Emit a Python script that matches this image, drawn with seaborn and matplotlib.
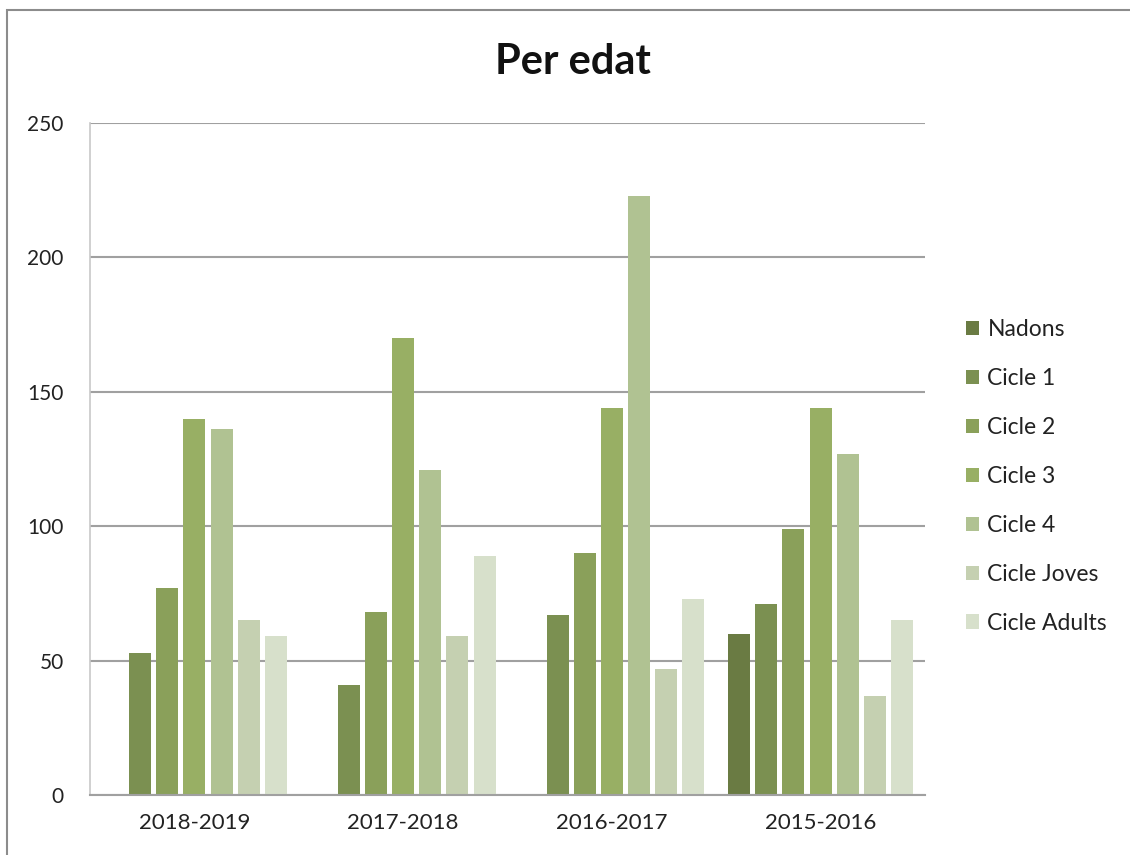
import pandas as pd
import numpy as np
import seaborn as sns
import matplotlib.pyplot as plt
from matplotlib.patches import Rectangle

cursos = ['2018-2019', '2017-2018', '2016-2017', '2015-2016']
grups = ['Nadons', 'Cicle 1', 'Cicle 2', 'Cicle 3', 'Cicle 4', 'Cicle Joves', 'Cicle Adults']
nadons = [0, 0, 0, 60]
cicle1 = [53, 41, 67, 71]
cicle2 = [77, 68, 90, 99]
cicle3 = [140, 170, 144, 144]
cicle4 = [136, 121, 223, 127]
joves = [65, 59, 47, 37]
adults = [59, 89, 73, 65]
colors = ['#6E843A', '#7F9A47', '#8FAB4F', '#9DBB58', '#B2CA8A', '#C6D5AC', '#D8E3C8']

valors = [nadons, cicle1, cicle2, cicle3, cicle4, joves, adults]
rows = []
for g, vals in zip(grups, valors):
    for c, v in zip(cursos, vals):
        rows.append({'curs': c, 'grup': g, 'valor': v})
df = pd.DataFrame(rows)

sns.set_style('white')
plt.rcParams['font.family'] = ['Lato', 'DejaVu Sans']

fig = plt.figure(figsize=(11.3, 8.55), dpi=100)
ax = fig.add_axes([90 / 1130, 1 - 795 / 855, 835 / 1130, 672 / 855])

sns.barplot(data=df, x='curs', y='valor', hue='grup', order=cursos, hue_order=grups,
            palette=colors, width=0.91, gap=0.19, linewidth=0, ax=ax, legend=True)

ax.set_ylim(0, 250)
ax.set_xlim(-0.5, 3.5)
ax.set_yticks([0, 50, 100, 150, 200, 250])
ax.yaxis.grid(True, color='#A0A0A0', linewidth=1.5)
ax.set_axisbelow(True)
ax.set_xlabel('')
ax.set_ylabel('')
for s in ['top', 'right']:
    ax.spines[s].set_visible(False)
ax.spines['left'].set_color('#C8C8C8')
ax.spines['left'].set_linewidth(1.2)
ax.spines['bottom'].set_color('#A0A0A0')
ax.spines['bottom'].set_linewidth(1.5)
ax.tick_params(axis='y', length=0, pad=19, labelsize=15, labelcolor='#222222')
ax.tick_params(axis='x', length=0, pad=13, labelsize=16, labelcolor='#222222')

fig.text(573 / 1130, 1 - 62 / 855, 'Per edat', ha='center', va='center',
         fontsize=30, fontweight='bold', color='#111111')

ax.legend(loc='center left', bbox_to_anchor=(855 / 835, 0.474), frameon=False,
          fontsize=16.5, handlelength=0.6, handleheight=0.6, handletextpad=0.35,
          labelspacing=1.22, labelcolor='#222222')

fig.patches.append(Rectangle((7 / 1130, -0.1), 1.2, 1 - 10 / 855 + 0.1, transform=fig.transFigure,
                             fill=False, edgecolor='#8C8C8C', linewidth=1.5))

fig.savefig('out.png', dpi=100)
